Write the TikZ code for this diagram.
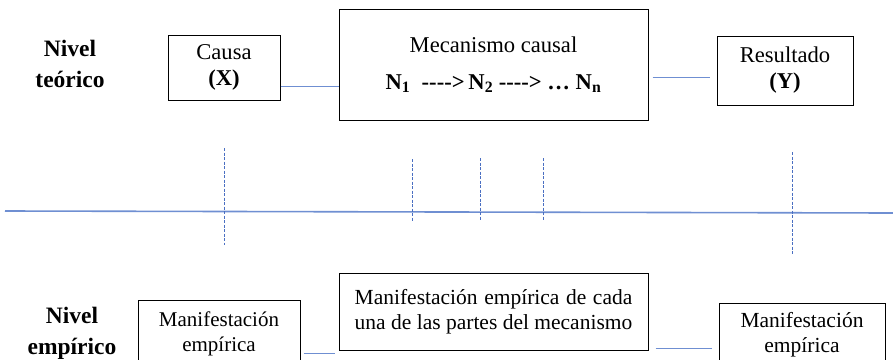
\documentclass[tikz,border=0pt]{standalone}
\usepackage{fontspec}
\usepackage{calc}
\setmainfont{Liberation Serif}
\definecolor{lineblue}{HTML}{6F8FD2}
\definecolor{dashblue}{HTML}{4A6FC2}
\begin{document}
\begin{tikzpicture}[x=1pt,y=-1pt,
  every node/.style={font=\fontsize{21.5}{25}\selectfont, inner sep=0pt},
  topfont/.style={font=\fontsize{22.6}{26}\selectfont},
  box/.style={draw=black, line width=1pt, align=center},
  level/.style={font=\fontsize{23.5}{31}\selectfont\bfseries, align=center},
  conn/.style={draw=lineblue, line width=0.9pt},
  vdash/.style={draw=dashblue, line width=0.8pt, dash pattern=on 3pt off 1.5pt}]
\useasboundingbox (0,0) rectangle (893,359);
\clip (0,0) rectangle (893,359);
\fill[white] (0,0) rectangle (893,359);

% top row
\node[level] (nt) at (70,64) {Nivel\\teórico};
\node[box, topfont, minimum width=112pt, minimum height=65pt] (causa) at (224,67.5) {Causa\\\textbf{(X)}};
\node[box, topfont, minimum width=309pt, minimum height=111pt] (mec) at (493.5,64.5)
  {Mecanismo causal\\[11pt]\textbf{N\textsubscript{1}\ \ -{}-{}-{}->\,N\textsubscript{2} -{}-{}-{}-> … N\textsubscript{n}}};
\node[box, topfont, minimum width=136pt, minimum height=69pt] (res) at (785,70.5) {Resultado\\\textbf{(Y)}};

\draw[conn] (causa.east |- 0,86) -- (mec.west |- 0,86);
\draw[conn] ([xshift=4pt]mec.east |- 0,77) -- ([xshift=-7pt]res.west |- 0,77);

% middle axis
\draw[draw=lineblue, line width=1.6pt] (5,211) -- (893,213);
\draw[vdash] (224,148) -- (224,245);
\draw[vdash] (412,159) -- (412,222);
\draw[vdash] (480,158) -- (480,220);
\draw[vdash] (543,158) -- (543,220);
\draw[vdash] (792,152) -- (792,255);

% bottom row
\node[level] (ne) at (72,333) {Nivel\\empírico};
\node[box, font=\fontsize{21}{25}\selectfont, minimum width=162pt, minimum height=68pt] (m1) at (219,334) {Manifestación\\empírica};
\node[box, minimum width=309pt, minimum height=77pt] (m2) at (493.5,311.5)
  {\makebox[\widthof{una de las partes del mecanismo}][s]{Manifestación empírica de cada}\\una de las partes del mecanismo};
\node[box, minimum width=166pt, minimum height=64pt] (m3) at (802,335) {Manifestación\\empírica};

\draw[conn] ([xshift=3pt]m1.east |- 0,353) -- ([xshift=-4pt]m2.west |- 0,353);
\draw[conn] ([xshift=7pt]m2.east |- 0,348) -- ([xshift=-7pt]m3.west |- 0,348);
\end{tikzpicture}
\end{document}
